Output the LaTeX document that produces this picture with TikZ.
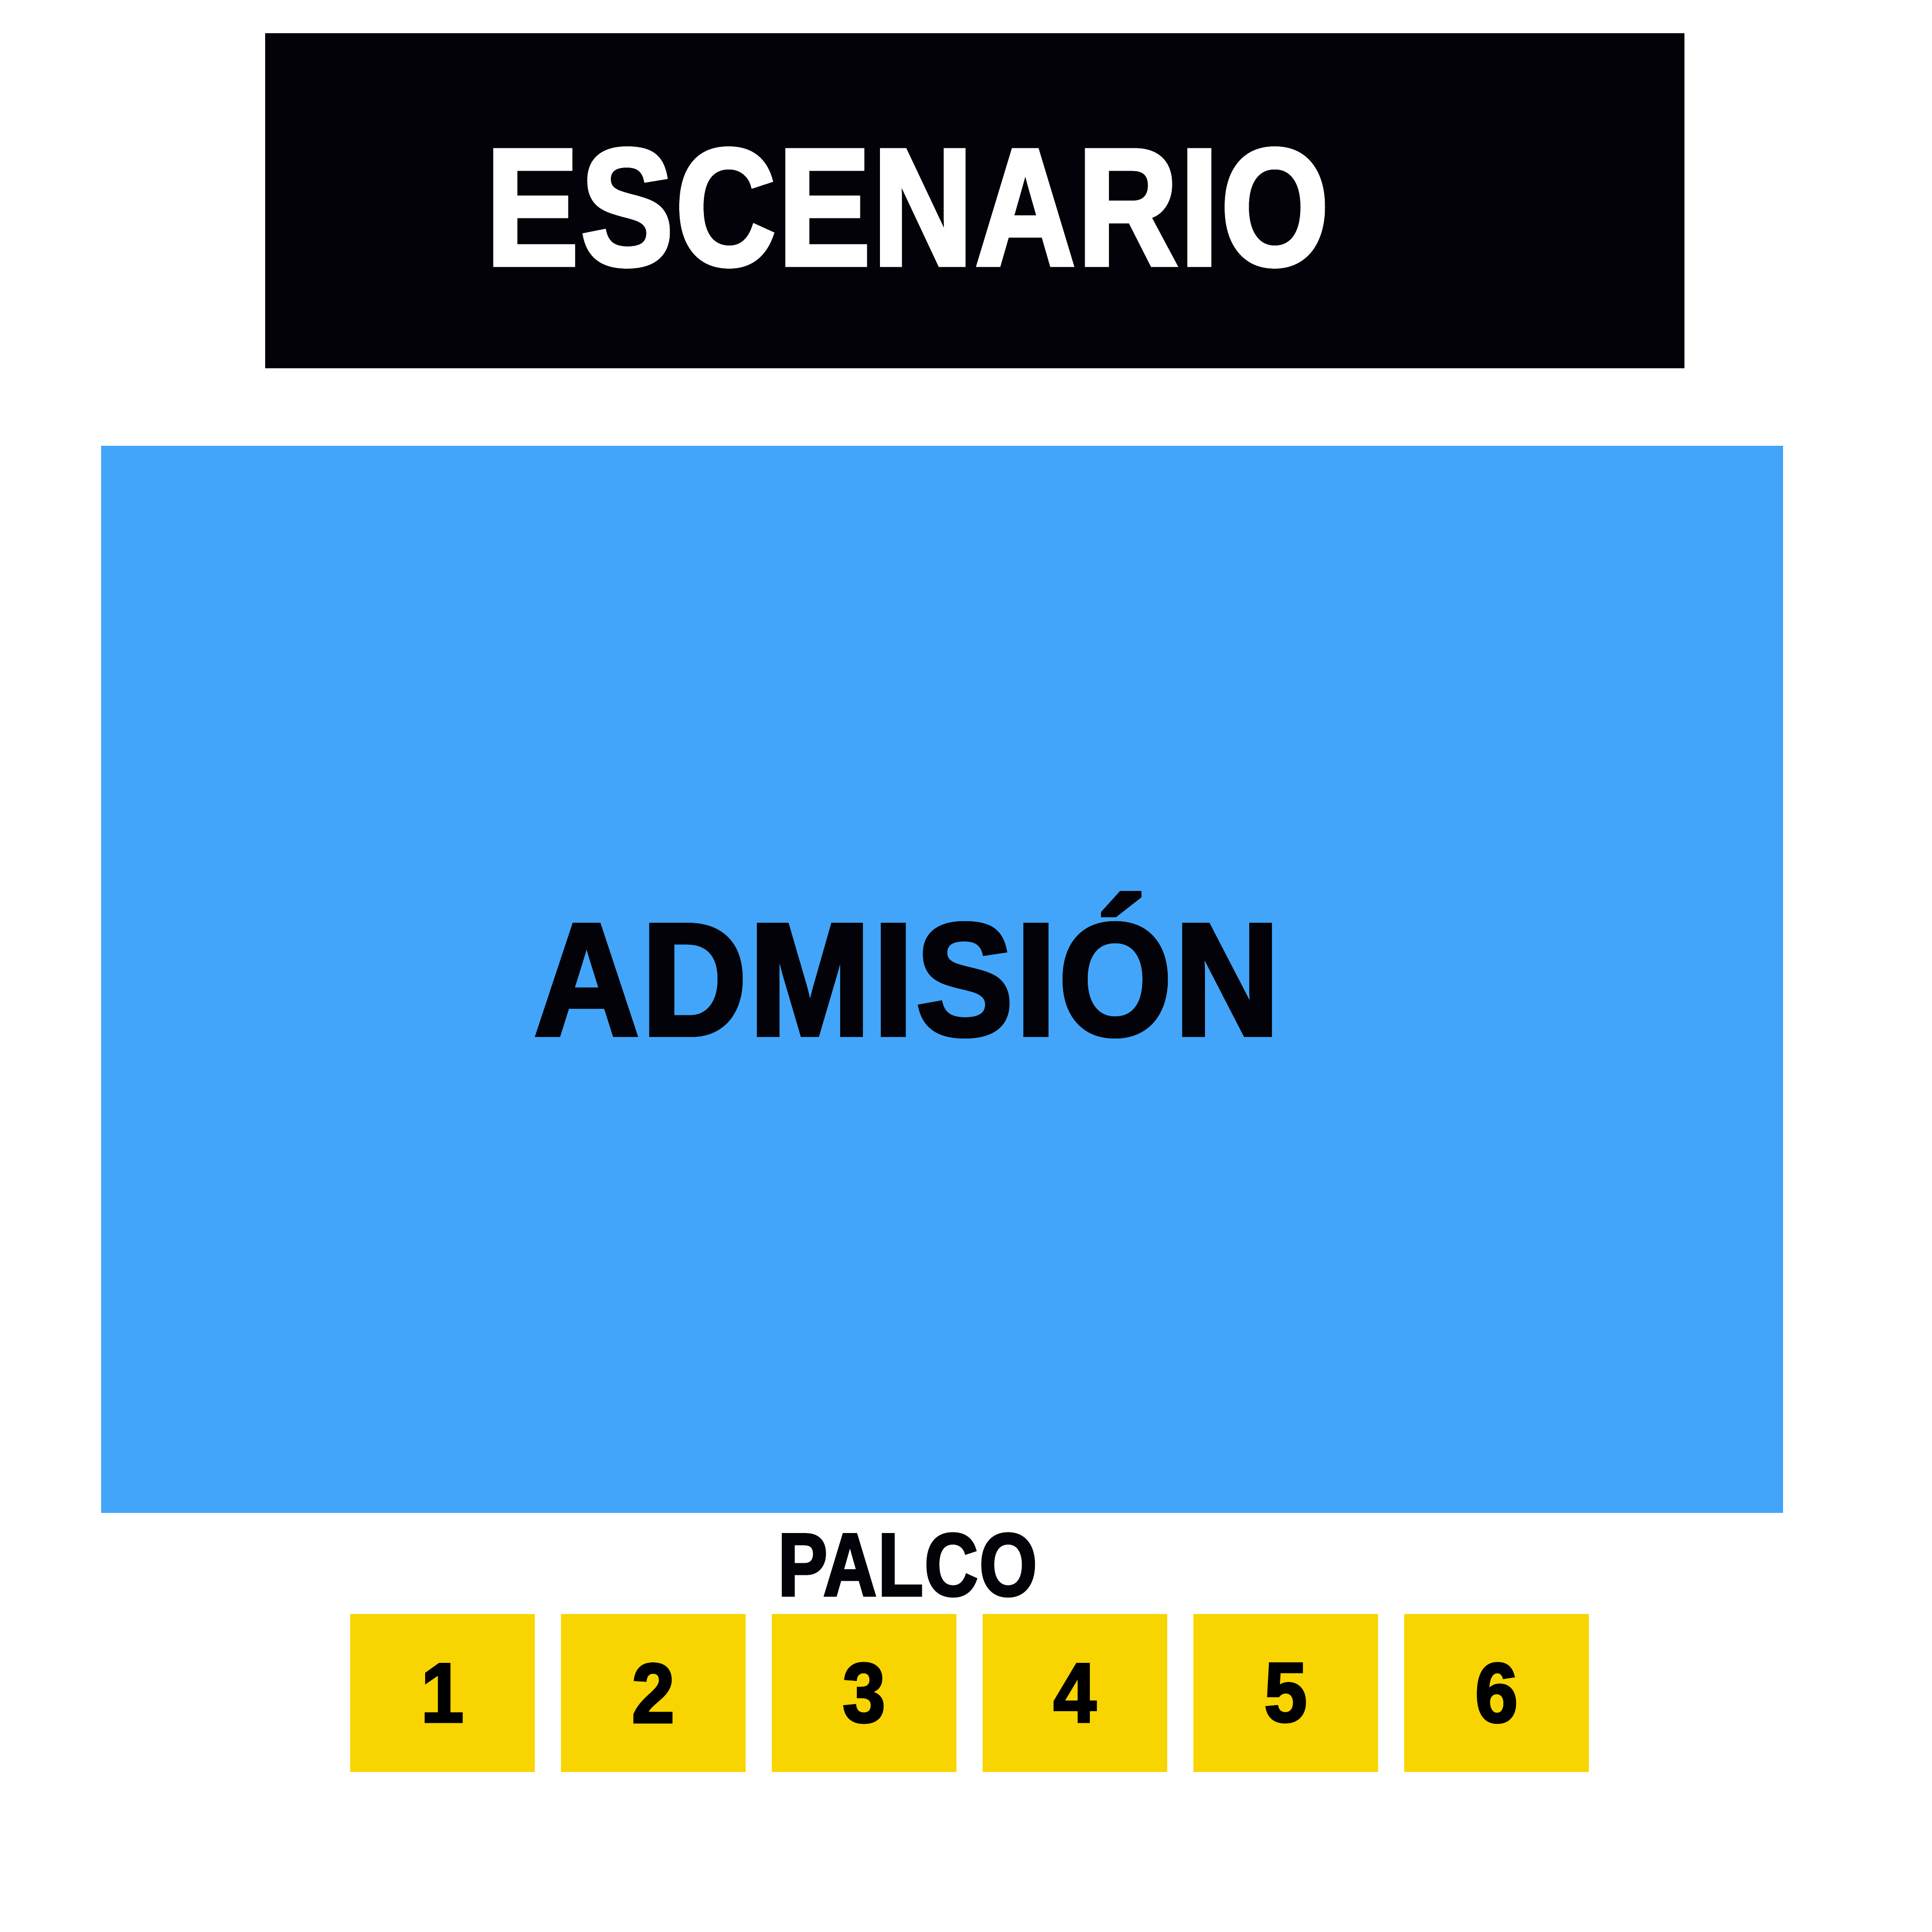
\documentclass[tikz,border=0pt]{standalone}
\usepackage{fontspec}
\setmainfont{Liberation Sans}
\newfontfamily\signfont[FakeStretch=0.83,FakeBold=2.5,LetterSpace=1.5]{Liberation Sans Bold}
\newfontfamily\floorfont[FakeStretch=0.91,FakeBold=2.5,LetterSpace=1.5]{Liberation Sans Bold}
\definecolor{stageblack}{RGB}{2,2,8}
\definecolor{floorblue}{RGB}{66,165,250}
\definecolor{palcoyellow}{RGB}{248,213,0}

\begin{document}
\begin{tikzpicture}[
    zone/.style={inner sep=0pt, outer sep=0pt},
    bigtext/.style={anchor=base, inner sep=0pt, font=\signfont\fontsize{38.5}{46}\selectfont},
    smalltext/.style={anchor=base, inner sep=0pt, font=\signfont\fontsize{20.6}{25}\selectfont},
    palcobox/.style={zone, fill=palcoyellow, minimum width=1.5cm, minimum height=1.28cm,
      font=\floorfont\fontsize{19.5}{23}\selectfont}
  ]
  \useasboundingbox (0,0) rectangle (15.68,15.68);
  \fill[white] (0,0) rectangle (15.68,15.68);

  % stage
  \node[zone, fill=stageblack, minimum width=11.52cm, minimum height=2.72cm] (stage) at (7.91,14.05) {};
  \node[bigtext, text=white] (stagelabel) at (7.365,13.53) {ESCENARIO};

  % general admission floor
  \node[zone, fill=floorblue, minimum width=13.65cm, minimum height=8.66cm] (floor) at (7.645,7.73) {};
  \node[bigtext, text=stageblack, font=\floorfont\fontsize{37}{44}\selectfont] (floorlabel) at (7.36,7.28) {ADMISIÓN};

  % boxes
  \node[smalltext, text=stageblack] (palcolabel) at (7.365,2.73) {PALCO};
  \foreach \n in {1,...,6}
    \node[palcobox] (palco\n) at ({3.59+(\n-1)*1.711},1.94) {\n};
\end{tikzpicture}
\end{document}
